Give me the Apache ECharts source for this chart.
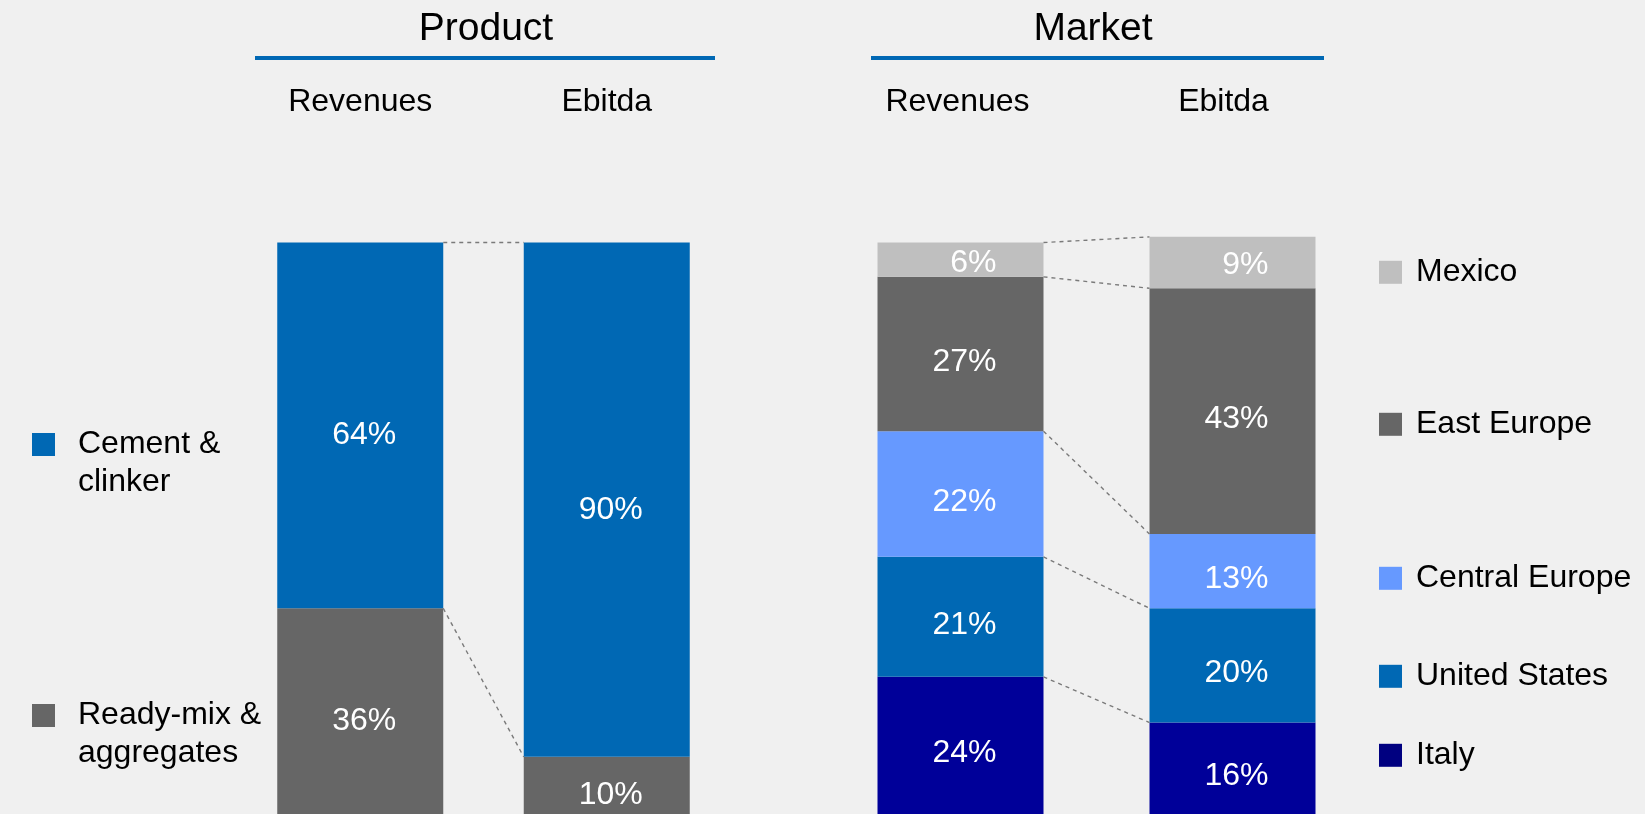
<!DOCTYPE html>
<html>
<head>
<meta charset="utf-8">
<script src="https://cdn.jsdelivr.net/npm/echarts@6/dist/echarts.min.js"></script>
<style>
  html, body { margin: 0; padding: 0; background: #F0F0F0; }
  #chart { width: 1645px; height: 814px; }
</style>
</head>
<body>
<div id="chart"></div>
<script>
// Column headings for both panels
const barCategories = ['Revenues', 'Ebitda'];

// Product split (bottom to top)
const readyMixShare = [36, 10];
const cementShare = [64, 90];

// Market split (bottom to top)
const italyShare = [24, 16];
const unitedStatesShare = [21, 20];
const centralEuropeShare = [22, 13];
const eastEuropeShare = [27, 43];
const mexicoShare = [6, 9];

const FONT = 'Liberation Sans, Arial, Helvetica, sans-serif';
const BAR_W = 166;
const Y_MAX = 105;

const COLORS = {
  cement: '#0068B4',
  readyMix: '#666666',
  italy: '#000099',
  us: '#0068B4',
  central: '#6699FF',
  east: '#666666',
  mexico: '#BFBFBF'
};

// Cumulative boundaries of a stack, one [revenues, ebitda] pair per segment top
function stackBoundaries(stacks) {
  const out = [];
  let a = 0, b = 0;
  stacks.forEach(s => {
    a += s[0];
    b += s[1];
    out.push([0, a, b]);
  });
  return out;
}

const productLinks = stackBoundaries([readyMixShare, cementShare]);
const marketLinks = stackBoundaries([italyShare, unitedStatesShare, centralEuropeShare, eastEuropeShare, mexicoShare]);

// Dashed connectors joining matching segment edges of the two bars
function connectorSeries(idx, links) {
  return {
    type: 'custom',
    xAxisIndex: idx,
    yAxisIndex: idx,
    z: 5,
    silent: true,
    encode: { x: 0, y: 1 },
    data: links,
    renderItem: function (params, api) {
      const p0 = api.coord([0, api.value(1)]);
      const p1 = api.coord([1, api.value(2)]);
      return {
        type: 'line',
        shape: { x1: p0[0] + BAR_W / 2, y1: p0[1], x2: p1[0] - BAR_W / 2, y2: p1[1] },
        style: { stroke: '#7a7a7a', lineWidth: 1.4, lineDash: [4, 4], fill: null }
      };
    }
  };
}

function barSeries(name, idx, stack, data, color, offsetY) {
  return {
    name: name,
    type: 'bar',
    xAxisIndex: idx,
    yAxisIndex: idx,
    stack: stack,
    barWidth: BAR_W,
    data: data,
    itemStyle: { color: color },
    label: {
      show: true,
      position: 'inside',
      align: 'right',
      offset: [36, offsetY],
      formatter: '{c}%',
      color: '#ffffff',
      fontSize: 32,
      fontFamily: FONT
    }
  };
}

// Two-line legend entries keep the swatch level with the first line
function legendItem(name, left, top, multiline, gapLeft, iconColor) {
  const item = { name: name, icon: 'rect' };
  if (iconColor) item.itemStyle = { color: iconColor };
  const textStyle = {
    color: '#000000',
    fontSize: 32,
    fontFamily: FONT,
    lineHeight: multiline ? 38 : 32,
    padding: [0, 0, 0, gapLeft]
  };
  const cfg = {
    data: [item],
    left: left,
    top: top,
    padding: 0,
    orient: 'vertical',
    itemWidth: 23,
    itemHeight: 23,
    selectedMode: false,
    textStyle: textStyle
  };
  if (multiline) {
    textStyle.rich = {
      s: { fontSize: 10, lineHeight: 38 },
      a: { fontSize: 32, lineHeight: 38, fontFamily: FONT, color: '#000000' }
    };
    cfg.formatter = function (n) {
      return '{s| }\n' + n.split('\n').map(t => '{a|' + t + '}').join('\n');
    };
  }
  return cfg;
}

function xAxisFor(gridIndex, labels) {
  return {
    gridIndex: gridIndex,
    type: 'category',
    data: labels,
    position: 'top',
    axisLine: { show: false },
    axisTick: { show: false },
    axisLabel: { margin: 96, fontSize: 32, color: '#000000', fontFamily: FONT }
  };
}

const yAxisCommon = { type: 'value', min: 0, max: Y_MAX, show: false };

const chart = echarts.init(document.getElementById('chart'), null, { renderer: 'canvas' });

chart.setOption({
  backgroundColor: '#F0F0F0',
  animation: false,
  grid: [
    { left: 237, width: 493, top: 214, bottom: -2 },
    { left: 824.5, width: 544, top: 214, bottom: -2 }
  ],
  xAxis: [
    xAxisFor(0, barCategories),
    xAxisFor(1, [
      { value: barCategories[0], textStyle: { padding: [0, 6, 0, 0] } },
      { value: barCategories[1], textStyle: { padding: [0, 18, 0, 0] } }
    ])
  ],
  yAxis: [
    Object.assign({ gridIndex: 0 }, yAxisCommon),
    Object.assign({ gridIndex: 1 }, yAxisCommon)
  ],
  legend: [
    legendItem('Cement &\nclinker', 32, 387.5, true, 18),
    legendItem('Ready-mix &\naggregates', 32, 658.5, true, 18),
    legendItem('Mexico', 1379, 256.3, false, 9),
    legendItem('East Europe', 1379, 408.3, false, 9),
    legendItem('Central Europe', 1379, 562.3, false, 9),
    legendItem('United States', 1379, 660.3, false, 9),
    legendItem('Italy', 1379, 739.3, false, 9, '#000080')
  ],
  graphic: [
    {
      type: 'text', x: 486, y: 29,
      style: { text: 'Product', fontSize: 39, fontFamily: FONT, fill: '#000000',
               align: 'center', verticalAlign: 'middle', textAlign: 'center', textVerticalAlign: 'middle' }
    },
    {
      type: 'text', x: 1093, y: 29,
      style: { text: 'Market', fontSize: 39, fontFamily: FONT, fill: '#000000',
               align: 'center', verticalAlign: 'middle', textAlign: 'center', textVerticalAlign: 'middle' }
    },
    { type: 'rect', shape: { x: 255, y: 56, width: 460, height: 4 }, style: { fill: '#0068B4' } },
    { type: 'rect', shape: { x: 871, y: 56, width: 453, height: 4 }, style: { fill: '#0068B4' } }
  ],
  series: [
    barSeries('Ready-mix &\naggregates', 0, 'product', readyMixShare, COLORS.readyMix, 10),
    barSeries('Cement &\nclinker', 0, 'product', cementShare, COLORS.cement, 10),
    connectorSeries(0, productLinks),
    barSeries('Italy', 1, 'market', italyShare, COLORS.italy, 8),
    barSeries('United States', 1, 'market', unitedStatesShare, COLORS.us, 8),
    barSeries('Central Europe', 1, 'market', centralEuropeShare, COLORS.central, 8),
    barSeries('East Europe', 1, 'market', eastEuropeShare, COLORS.east, 8),
    barSeries('Mexico', 1, 'market', mexicoShare, COLORS.mexico, 3),
    connectorSeries(1, marketLinks)
  ]
});
</script>
</body>
</html>
